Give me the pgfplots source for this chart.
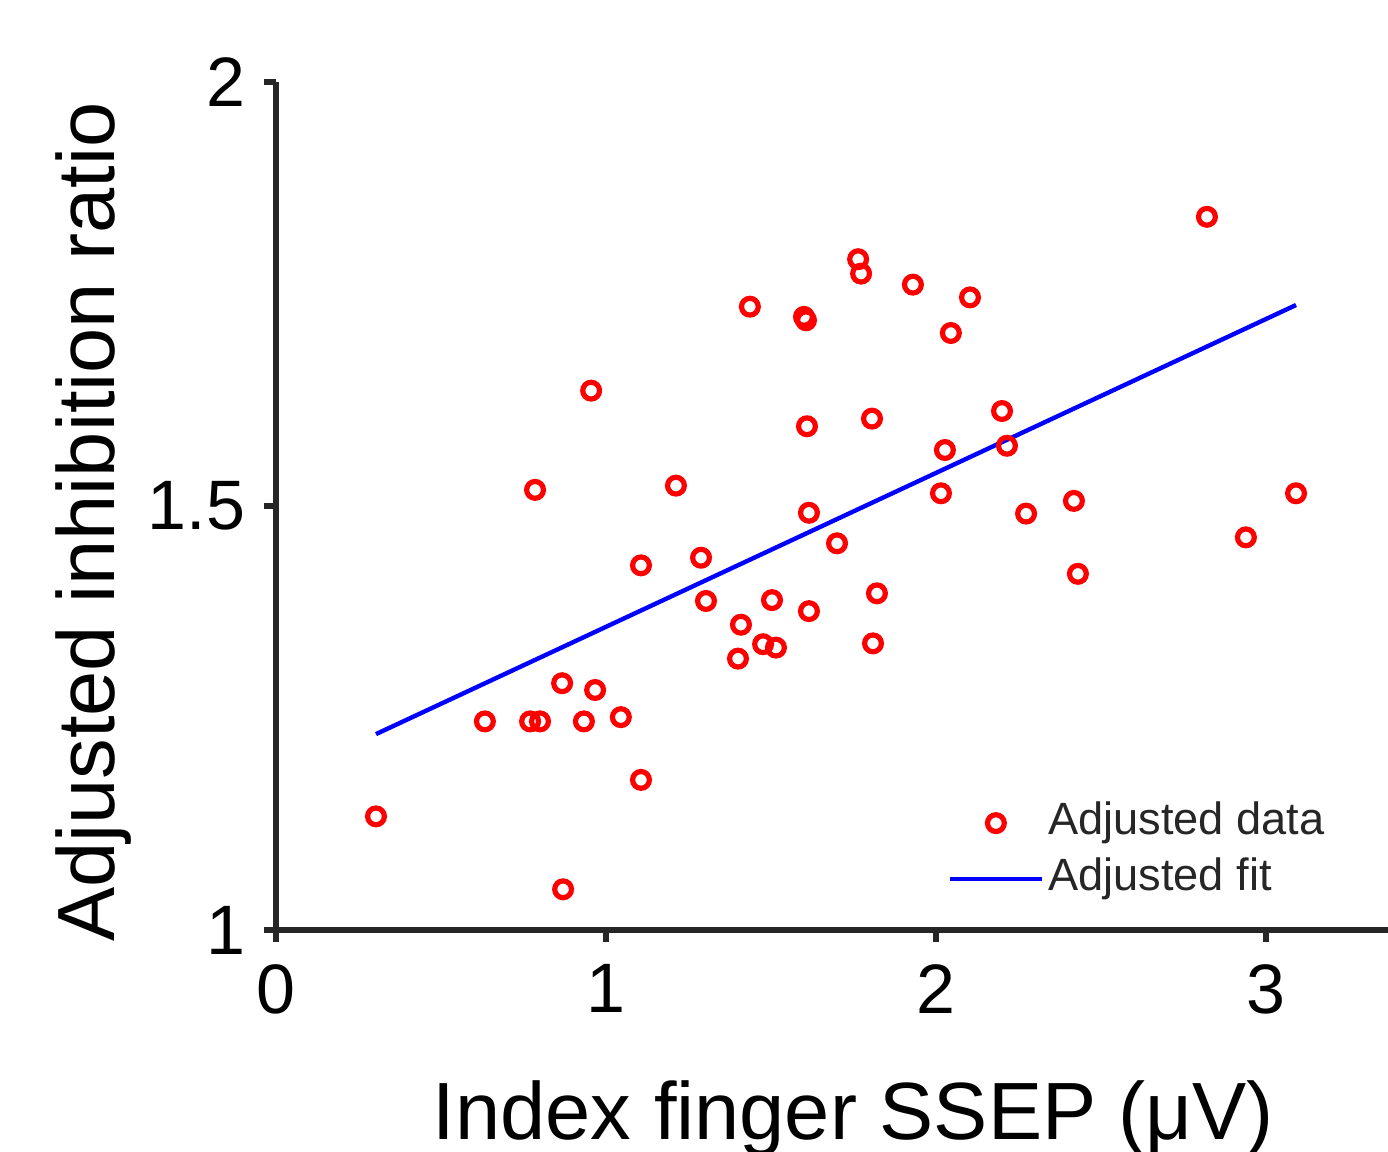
\documentclass[border=0pt]{standalone}
\usepackage{pgfplots}
\pgfplotsset{compat=1.18}
\usepackage{fontspec}
\setmainfont{Liberation Sans}
\definecolor{axgray}{HTML}{262626}
\begin{document}
\begin{tikzpicture}
\begin{axis}[
  name=ax, at={(0,0)}, anchor=south west, scale only axis,
  width=288.75pt, height=212pt,
  xmin=0, xmax=3.5, ymin=1, ymax=2,
  axis x line*=bottom, axis y line*=left,
  axis line style={-, draw=axgray, line width=1.7pt},
  xtick={0,1,2,3}, ytick={1,1.5,2},
  tick align=outside, major tick length=3pt,
  tick style={draw=axgray, line width=1.7pt},
  /pgf/number format/assume math mode=true,
  ticklabel style={font=\fontsize{17.5}{20}\selectfont, text=black},
  yticklabel style={xshift=-1.2pt},
  xticklabel style={yshift=-2pt},
  xlabel={Index finger SSEP (μV)},
  ylabel={Adjusted inhibition ratio},
  label style={font=\fontsize{20.3}{24}\selectfont, text=black},
  xlabel style={at={(rel axis cs:0.5,-0.2476)}, anchor=base},
  ylabel style={at={(rel axis cs:-0.1394,0.481)}, anchor=base},
  legend style={at={(axis cs:2.033,1.093)}, anchor=west, draw=none, fill=none,
    inner sep=0pt, font=\fontsize{11.3}{13}\selectfont, text=axgray,
    row sep=1.4pt, nodes={inner sep=1pt, text height=8.2pt, text depth=2.4pt}},
  legend cell align=left,
  legend image code/.code={\draw[mark repeat=2,mark phase=2,#1] plot coordinates {(0pt,0pt) (11.5pt,0pt) (23pt,0pt)};},
]
\addplot[only marks, mark=o, mark size=2.1pt, draw=red, line width=1.3pt] coordinates {
(0.303,1.134) (0.633,1.246) (0.770,1.246) (0.800,1.246) (0.785,1.519)
(0.870,1.048) (0.867,1.291) (0.933,1.246) (0.967,1.283) (0.955,1.636)
(1.045,1.251) (1.106,1.177) (1.106,1.430) (1.212,1.524) (1.288,1.439)
(1.303,1.388) (1.409,1.360) (1.400,1.320) (1.436,1.735) (1.476,1.337)
(1.503,1.389) (1.515,1.333) (1.600,1.723) (1.606,1.719) (1.609,1.594)
(1.615,1.492) (1.615,1.376) (1.700,1.456) (1.764,1.791) (1.773,1.774)
(1.806,1.603) (1.809,1.338) (1.821,1.397) (1.930,1.761) (2.015,1.515)
(2.027,1.566) (2.045,1.704) (2.103,1.746) (2.200,1.612) (2.215,1.571)
(2.273,1.491) (2.418,1.506) (2.430,1.420) (2.821,1.841) (2.939,1.463)
(3.091,1.515)
};
\addlegendentry{Adjusted data}
\addplot[blue, line width=1.1pt, no marks] coordinates {(0.303,1.231) (3.091,1.737)};
\addlegendentry{Adjusted fit}
\end{axis}
\pgfresetboundingbox
\path[use as bounding box] (-69pt,-55.5pt) rectangle (278pt,232.5pt);
\end{tikzpicture}
\end{document}
